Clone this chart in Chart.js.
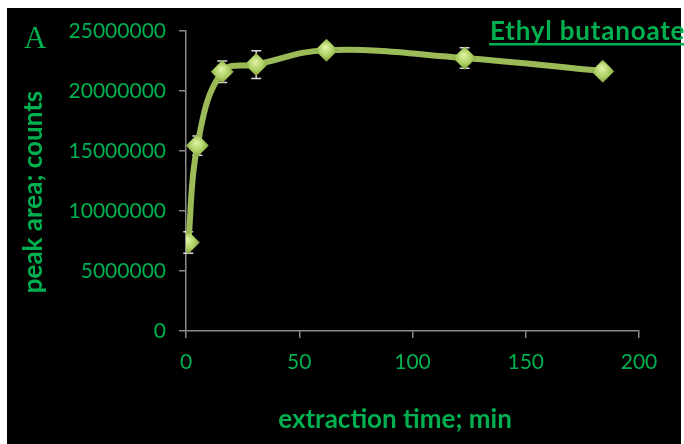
<!DOCTYPE html>
<html>
<head>
<meta charset="utf-8">
<script src="https://cdn.jsdelivr.net/npm/chart.js@4/dist/chart.umd.min.js"></script>
<style>
  html, body { margin: 0; padding: 0; background: #ffffff; }
  #wrap { width: 684px; height: 444px; }
</style>
</head>
<body>
<div id="wrap"><canvas id="chart" width="684" height="444"></canvas></div>
<script>
// Extraction time (min) and peak area (counts) for ethyl butanoate
const times = [1, 5, 16, 31, 62, 123, 184];
const peakArea = [7370000, 15450000, 21600000, 22200000, 23400000, 22750000, 21650000];
const peakErr = [900000, 800000, 900000, 1150000, 200000, 850000, 400000];
const xTicks = [0, 50, 100, 150, 200];
const yTicks = [0, 5000000, 10000000, 15000000, 20000000, 25000000];

const xTitle = 'extraction time; min';
const yTitle = 'peak area; counts';
const panelLetter = 'A';
const compound = 'Ethyl butanoate';

const GREEN_TEXT = '#00b050';
const LINE = '#9bbb59';
const AXIS = '#8a8a8a';
const TITLE_FONT = 'bold 26px Lato, sans-serif';

// Black panel behind the plot, inside a thin white frame
const panel = {
  id: 'panel',
  beforeDraw(chart) {
    const ctx = chart.ctx;
    ctx.save();
    ctx.fillStyle = '#ffffff';
    ctx.fillRect(0, 0, chart.width, chart.height);
    ctx.fillStyle = '#000000';
    ctx.fillRect(7, 8, 674, 436);
    ctx.restore();
  }
};

// Vertical error bars with caps, drawn underneath the curve and markers
const errorBars = {
  id: 'errorBars',
  beforeDatasetsDraw(chart) {
    const ctx = chart.ctx;
    const xs = chart.scales.x, ys = chart.scales.y;
    ctx.save();
    ctx.strokeStyle = '#d9d9d9';
    ctx.lineWidth = 1.5;
    times.forEach((t, i) => {
      const x = xs.getPixelForValue(t);
      const y1 = ys.getPixelForValue(peakArea[i] + peakErr[i]);
      const y2 = ys.getPixelForValue(peakArea[i] - peakErr[i]);
      ctx.beginPath();
      ctx.moveTo(x, y1); ctx.lineTo(x, y2);
      ctx.moveTo(x - 5, y1); ctx.lineTo(x + 5, y1);
      ctx.moveTo(x - 5, y2); ctx.lineTo(x + 5, y2);
      ctx.stroke();
    });
    ctx.restore();
  }
};

// Axis titles, panel letter and underlined compound name
const captions = {
  id: 'captions',
  afterDraw(chart) {
    const ctx = chart.ctx;
    ctx.save();
    ctx.fillStyle = GREEN_TEXT;
    ctx.textBaseline = 'alphabetic';

    ctx.font = TITLE_FONT;
    ctx.textAlign = 'center';
    ctx.fillText(xTitle, 395, 428);

    ctx.save();
    ctx.translate(42, 192);
    ctx.rotate(-Math.PI / 2);
    ctx.fillText(yTitle, 0, 0);
    ctx.restore();

    ctx.textAlign = 'left';
    ctx.font = '31px "Liberation Serif", serif';
    ctx.fillText(panelLetter, 24, 48);

    ctx.font = TITLE_FONT;
    ctx.letterSpacing = '0.8px';
    ctx.fillText(compound, 490, 40);
    const w = ctx.measureText(compound).width;
    ctx.fillRect(489, 43, w + 2, 2.5);
    ctx.restore();
  }
};

// Gradient fill for each diamond marker
function markerFill(c) {
  if (c.type !== 'data' || !c.parsed) return LINE;
  const chart = c.chart;
  const x = chart.scales.x.getPixelForValue(c.parsed.x);
  const y = chart.scales.y.getPixelForValue(c.parsed.y);
  if (!Number.isFinite(x) || !Number.isFinite(y)) return LINE;
  const g = chart.ctx.createRadialGradient(x - 1, y - 3, 1, x, y, 12);
  g.addColorStop(0, '#dcf0a0');
  g.addColorStop(0.55, '#add064');
  g.addColorStop(1, '#7e9c3a');
  return g;
}

new Chart(document.getElementById('chart'), {
  type: 'line',
  data: {
    datasets: [{
      data: times.map((t, i) => ({ x: t, y: peakArea[i] })),
      borderColor: LINE,
      borderWidth: 6,
      tension: 0.4,
      fill: false,
      pointStyle: 'rectRot',
      pointRadius: 11.5,
      pointHoverRadius: 11.5,
      pointBorderWidth: 0,
      pointBackgroundColor: markerFill
    }]
  },
  options: {
    responsive: false,
    devicePixelRatio: 1,
    animation: false,
    events: [],
    layout: { padding: { left: 7, top: 31, right: 45, bottom: 0 } },
    plugins: { legend: { display: false }, tooltip: { enabled: false } },
    scales: {
      x: {
        type: 'linear',
        min: 0,
        max: 200,
        afterBuildTicks(s) { s.ticks = xTicks.map(v => ({ value: v })); },
        afterFit(s) { s.height = 113; },
        ticks: {
          color: GREEN_TEXT,
          font: { family: 'Lato', size: 21 },
          padding: 12,
          maxRotation: 0,
          callback: v => String(v)
        },
        grid: { drawOnChartArea: false, drawTicks: true, tickLength: 7, color: AXIS, lineWidth: 1.5 },
        border: { color: AXIS, width: 1.5 },
        title: { display: false }
      },
      y: {
        type: 'linear',
        min: 0,
        max: 25000000,
        afterBuildTicks(s) { s.ticks = yTicks.map(v => ({ value: v })); },
        afterFit(s) { s.width = 179; },
        ticks: {
          color: GREEN_TEXT,
          font: { family: 'Lato', size: 21 },
          padding: 13,
          callback: v => String(v)
        },
        grid: { drawOnChartArea: false, drawTicks: true, tickLength: 7, color: AXIS, lineWidth: 1.5 },
        border: { color: AXIS, width: 1.5 },
        title: { display: false }
      }
    }
  },
  plugins: [panel, errorBars, captions]
});
</script>
</body>
</html>
